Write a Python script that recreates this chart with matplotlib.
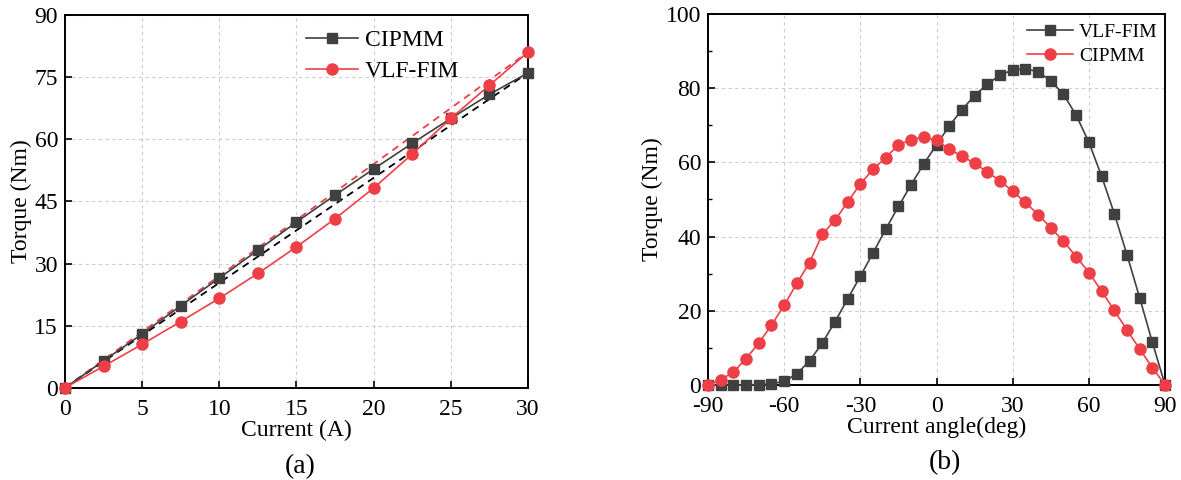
import matplotlib
matplotlib.use('Agg')
import matplotlib.pyplot as plt
from matplotlib.ticker import MultipleLocator

plt.rcParams['font.family'] = ['Liberation Serif', 'DejaVu Serif']
plt.rcParams['axes.unicode_minus'] = False

BLACK = '#404040'
RED = '#ee3f47'

# (a) torque vs current
current = [0, 2.5, 5, 7.5, 10, 12.5, 15, 17.5, 20, 22.5, 25, 27.5, 30]
torque_cipmm_a = [0, 6.5, 13.0, 19.8, 26.5, 33.2, 40.0, 46.5, 52.8, 59.0, 65.0, 70.8, 76.0]
torque_vlf_a = [0, 5.2, 10.5, 16.0, 21.6, 27.6, 34.0, 40.8, 48.2, 56.4, 65.0, 73.0, 81.0]
# linear reference lines (endpoints)
ref_x = [0, 30]
ref_cipmm = [0, 76.0]
ref_vlf = [0, 81.0]

# (b) torque vs current angle
angle = list(range(-90, 95, 5))
torque_vlf_b = [0, 0, 0, 0, 0.1, 0.3, 1.0, 3.0, 6.5, 11.3, 17.0, 23.2, 29.3, 35.6,
                42.0, 48.1, 54.0, 59.6, 64.7, 69.8, 74.2, 78.0, 81.1, 83.5, 84.9,
                85.2, 84.4, 82.0, 78.3, 72.7, 65.4, 56.3, 46.2, 35.1, 23.5, 11.5, 0]
torque_cipmm_b = [0, 1.4, 3.5, 7.1, 11.3, 16.1, 21.5, 27.4, 33.0, 40.6, 44.4, 49.3,
                  54.2, 58.1, 61.3, 64.7, 66.1, 66.8, 65.9, 63.5, 61.7, 59.7, 57.4,
                  55.0, 52.2, 49.2, 45.9, 42.4, 38.7, 34.6, 30.3, 25.3, 20.1, 14.8,
                  9.7, 4.7, 0]

fig = plt.figure(figsize=(11.81, 4.8), dpi=100)
ax1 = fig.add_axes([0.055, 0.192, 0.392, 0.777])
ax2 = fig.add_axes([0.5995, 0.198, 0.387, 0.773])


def style_axes(ax):
    for s in ax.spines.values():
        s.set_linewidth(1.4)
    ax.tick_params(direction='in', length=5, width=1.2, labelsize=17)
    ax.tick_params(axis='x', pad=8)
    ax.tick_params(axis='y', pad=5)
    ax.tick_params(which='minor', direction='in', length=3, width=1.0)
    ax.grid(True, linestyle=(0, (3, 3)), color='#cccccc', linewidth=0.8)
    ax.set_axisbelow(True)


# ---- panel (a)
ax1.plot(ref_x, ref_vlf, color=RED, linestyle=(0, (4, 3)), linewidth=1.3, zorder=2)
ax1.plot(ref_x, ref_cipmm, color='black', linestyle=(0, (4, 3)), linewidth=1.3, zorder=2)
ax1.plot(current, torque_cipmm_a, color=BLACK, marker='s', markersize=7,
         linewidth=1.2, label='CIPMM', zorder=3, clip_on=False)
ax1.plot(current, torque_vlf_a, color=RED, marker='o', markersize=8,
         linewidth=1.2, label='VLF-FIM', zorder=3, clip_on=False)
ax1.set_xlim(0, 30)
ax1.set_ylim(0, 90)
ax1.xaxis.set_major_locator(MultipleLocator(5))
ax1.yaxis.set_major_locator(MultipleLocator(15))
style_axes(ax1)
ax1.set_xlabel('Current (A)', fontsize=17, labelpad=0)
ax1.set_ylabel('Torque (Nm)', fontsize=17, labelpad=2)
ax1.legend(loc='upper left', bbox_to_anchor=(0.5, 0.985), frameon=False,
           fontsize=17, handlelength=2.2, handletextpad=0.3,
           borderaxespad=0, labelspacing=0.4)

# ---- panel (b)
ax2.plot(angle, torque_vlf_b, color=BLACK, marker='s', markersize=7,
         linewidth=1.2, label='VLF-FIM', zorder=3, clip_on=False)
ax2.plot(angle, torque_cipmm_b, color=RED, marker='o', markersize=8,
         linewidth=1.2, label='CIPMM', zorder=3, clip_on=False)
ax2.set_xlim(-90, 90)
ax2.set_ylim(0, 100)
ax2.xaxis.set_major_locator(MultipleLocator(30))
ax2.yaxis.set_major_locator(MultipleLocator(20))
ax2.yaxis.set_minor_locator(MultipleLocator(10))
style_axes(ax2)
ax2.set_xlabel('Current angle(deg)', fontsize=17, labelpad=0)
ax2.set_ylabel('Torque (Nm)', fontsize=17, labelpad=2)
ax2.legend(loc='upper left', bbox_to_anchor=(0.68, 0.995), frameon=False,
           fontsize=14, handlelength=2.4, handletextpad=0.3,
           borderaxespad=0, labelspacing=0.3)

fig.text(0.254, 0.027, '(a)', fontsize=20, ha='center', va='center')
fig.text(0.800, 0.037, '(b)', fontsize=20, ha='center', va='center')

fig.savefig('out.png', dpi=100)
